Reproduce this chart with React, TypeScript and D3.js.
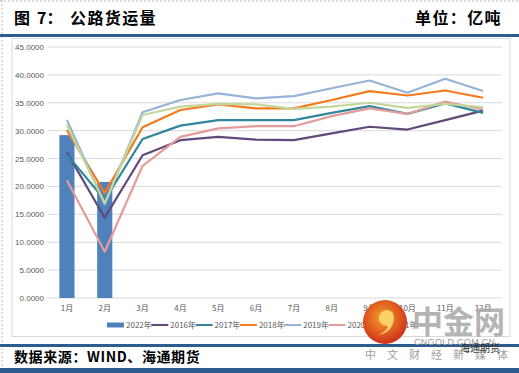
import React from 'react';
import * as d3 from 'd3';

// categories and values (unit: 亿吨)
const months = ['1月', '2月', '3月', '4月', '5月', '6月', '7月', '8月', '9月', '10月', '11月', '12月'];
const v2022 = [29.2, 20.8];
const v2016 = [26.1, 14.4, 25.6, 28.3, 28.9, 28.4, 28.3, 29.5, 30.7, 30.2, 31.9, 33.6];
const v2017 = [25.7, 17.6, 28.5, 30.9, 31.9, 31.9, 31.9, 33.2, 34.4, 33.0, 34.9, 33.2];
const v2018 = [30.1, 18.8, 30.6, 33.7, 34.7, 34.0, 34.0, 35.5, 37.1, 36.3, 37.2, 35.9];
const v2019 = [31.9, 16.8, 33.3, 35.5, 36.7, 35.8, 36.2, 37.6, 39.0, 36.8, 39.3, 37.1];
const v2020 = [21.1, 8.3, 23.7, 28.9, 30.4, 30.8, 30.8, 32.6, 34.0, 33.0, 35.2, 33.8];
const v2021 = [31.0, 17.0, 32.8, 34.3, 34.8, 34.7, 33.9, 34.3, 35.0, 34.1, 34.8, 34.2];
const yTicks = [0, 5, 10, 15, 20, 25, 30, 35, 40, 45];

const lineSeries = [
  { name: '2016年', values: v2016, color: '#604A7B' },
  { name: '2017年', values: v2017, color: '#31859C' },
  { name: '2018年', values: v2018, color: '#F47A1F' },
  { name: '2019年', values: v2019, color: '#95B3D7' },
  { name: '2020年', values: v2020, color: '#E39C9A' },
  { name: '2021年', values: v2021, color: '#C3D69B' },
];
const barColor = '#4F81BD';

const W = 519, H = 373;
const plot = { left: 48, right: 502, top: 47, bottom: 298 };

const cjk = '"Noto Sans CJK SC", sans-serif';
const sans = '"Liberation Sans", Arial, sans-serif';

export default function App() {
  const x = d3.scaleBand<string>()
    .domain(months)
    .range([plot.left, plot.right])
    .paddingInner(0.6)
    .paddingOuter(0.3);
  const y = d3.scaleLinear().domain([0, 45]).range([plot.bottom, plot.top]);
  const cx = (m: string) => (x(m) as number) + x.bandwidth() / 2;

  const line = d3.line<number>()
    .x((d, i) => cx(months[i]))
    .y(d => y(d));

  const legendItems = [{ name: '2022年', color: barColor, bar: true }, ...lineSeries.map(s => ({ name: s.name, color: s.color, bar: false }))];

  return (
    <svg width={W} height={H} style={{ position: 'absolute', left: 0, top: 0, background: '#fff' }}>
      <defs>
        <radialGradient id="logo" cx="45%" cy="40%" r="60%">
          <stop offset="0%" stopColor="#F6A02A" />
          <stop offset="100%" stopColor="#D0301A" />
        </radialGradient>
      </defs>
      {/* page borders */}
      <line x1={2} x2={2} y1={0} y2={H} stroke="#BBB" strokeDasharray="2,2" />
      <line x1={0} x2={W} y1={1} y2={1} stroke="#BBB" strokeDasharray="2,2" />

      {/* header */}
      <g fontFamily={cjk} fontWeight="bold" fontSize={16} fill="#000">
        <text x={14} y={24}>图</text>
        <text x={37} y={24}>7：</text>
        <text x={70} y={24} letterSpacing={1.4}>公路货运量</text>
        <text x={502} y={24} textAnchor="end" letterSpacing={1.4}>单位：亿吨</text>
      </g>
      <rect x={0} y={34} width={W} height={3} fill="#2E5C8E" />

      {/* chart frame */}
      <rect x={12} y={38.5} width={498} height={298} fill="#fff" stroke="#D9D9D9" />

      {/* grid + y axis */}
      {yTicks.map(t => (
        <g key={t}>
          <line x1={plot.left} x2={plot.right} y1={y(t)} y2={y(t)} stroke="#D9D9D9" strokeWidth={1} />
          <text x={44} y={y(t) + 3} textAnchor="end" fontFamily={sans} fontSize={8} fill="#595959">
            {t.toFixed(4)}
          </text>
        </g>
      ))}

      {/* x labels */}
      {months.map(m => (
        <text key={m} x={cx(m)} y={311} textAnchor="middle" fontFamily={cjk} fontSize={8} fill="#595959">{m}</text>
      ))}

      {/* bars */}
      {v2022.map((v, i) => (
        <rect key={i} x={x(months[i])} y={y(v)} width={x.bandwidth()} height={y(0) - y(v)} fill={barColor} />
      ))}

      {/* lines */}
      {lineSeries.map(s => (
        <path key={s.name} d={line(s.values) || ''} fill="none" stroke={s.color} strokeWidth={2.2} strokeLinejoin="round" />
      ))}

      {/* legend */}
      {legendItems.map((it, i) => {
        const lx = 107 + i * 44.3;
        return (
          <g key={it.name}>
            {it.bar
              ? <rect x={lx} y={322.5} width={17} height={5} fill={it.color} />
              : <line x1={lx} x2={lx + 17} y1={325} y2={325} stroke={it.color} strokeWidth={2} />}
            <text x={lx + 19} y={328} fontFamily={cjk} fontSize={8} fill="#595959">{it.name}</text>
          </g>
        );
      })}

      {/* footer */}
      <rect x={0} y={344} width={W} height={3} fill="#2E5C8E" />
      <text x={14} y={362} fontFamily={cjk} fontWeight="bold" fontSize={14} fill="#000" letterSpacing={0.6}>数据来源：WIND、海通期货</text>
      <rect x={0} y={368} width={W} height={5} fill="#2E5C8E" />

      {/* watermark */}
      <g>
        <circle cx={385} cy={322} r={22} fill="url(#logo)" />
        <path d="M 392 312 a 8 8 0 1 0 -4 14 q -2 6 -10 9 q 14 -2 16 -16 q 0 -5 -2 -7 z" fill="#FBD46A" opacity={0.95} />
        <text x={412} y={333} fontFamily={cjk} fontWeight="bold" fontSize={31} fill="#A8A8A8" opacity={0.85}>中金网</text>
        <text x={414} y={345} fontFamily={sans} fontSize={9} fill="#9A9A9A" letterSpacing={0.3}>CNGOLD.COM.CN</text>
        <text x={365} y={359} fontFamily={cjk} fontSize={11} fill="#A0A0A0" letterSpacing={11}>中文财经新媒体</text>
        <text x={460} y={352} fontFamily={cjk} fontSize={10} fill="#333">海通期货</text>
      </g>
    </svg>
  );
}
